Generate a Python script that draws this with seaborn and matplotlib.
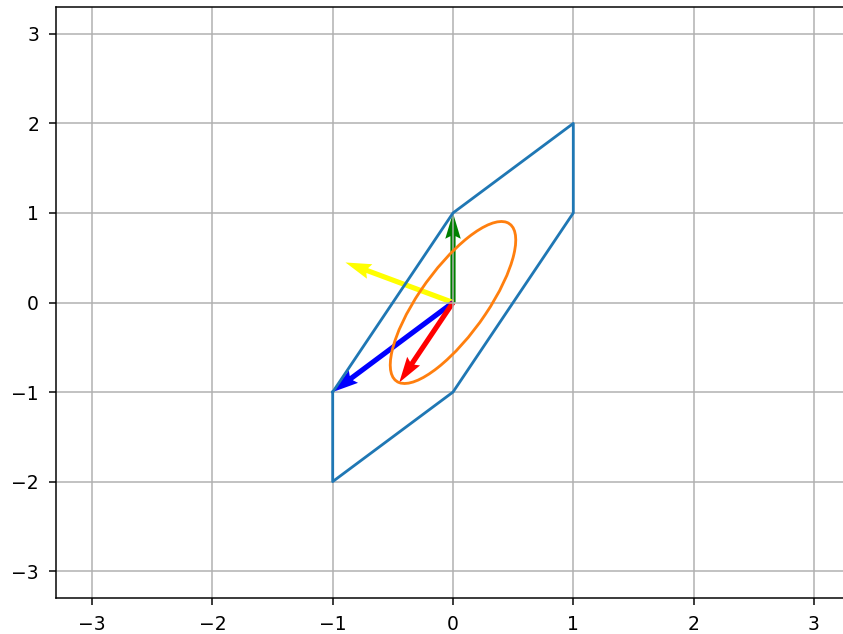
import matplotlib
matplotlib.use("Agg")
import matplotlib.pyplot as plt
from matplotlib.patches import Ellipse
import numpy as np
import pandas as pd
import seaborn as sns

# Hexagon outline (closed path)
hex_x = [-1, 0, 1, 1, 0, -1, -1]
hex_y = [-1, 1, 2, 1, -1, -2, -1]

# Ellipse: semi-axes and orientation of the major axis (degrees)
ell_semi_major = 1.0
ell_semi_minor = 0.3
ell_angle = 63.435

# Vectors drawn from the origin
vec_u = [0.0, -0.894, -1.0, -0.447]
vec_v = [1.0, 0.447, -1.0, -0.894]
vec_colors = ["green", "yellow", "blue", "red"]

ticks = [-3, -2, -1, 0, 1, 2, 3]
lim = (-3.3, 3.3)

dpi = 135
fig = plt.figure(figsize=(843 / dpi, 634 / dpi), dpi=dpi)
ax = fig.add_axes([56 / 843, 36 / 634, 794 / 843, 591 / 634])

hexagon = pd.DataFrame({"x": hex_x, "y": hex_y})
sns.lineplot(data=hexagon, x="x", y="y", sort=False, estimator=None,
             color="C0", linewidth=1.5, ax=ax, legend=False)

ax.add_patch(Ellipse((0, 0), width=2 * ell_semi_major, height=2 * ell_semi_minor,
                     angle=ell_angle, fill=False, edgecolor="C1",
                     linewidth=1.5, zorder=2))

ax.quiver(np.zeros(len(vec_u)), np.zeros(len(vec_v)), vec_u, vec_v,
          color=vec_colors, angles="xy", scale_units="xy", scale=1,
          width=0.0065)

ax.set_xlim(*lim)
ax.set_ylim(*lim)
ax.set_xticks(ticks)
ax.set_yticks(ticks)
ax.set_xlabel("")
ax.set_ylabel("")
ax.tick_params(pad=5.5)
ax.grid(True)

fig.savefig("out.png", dpi=dpi)
